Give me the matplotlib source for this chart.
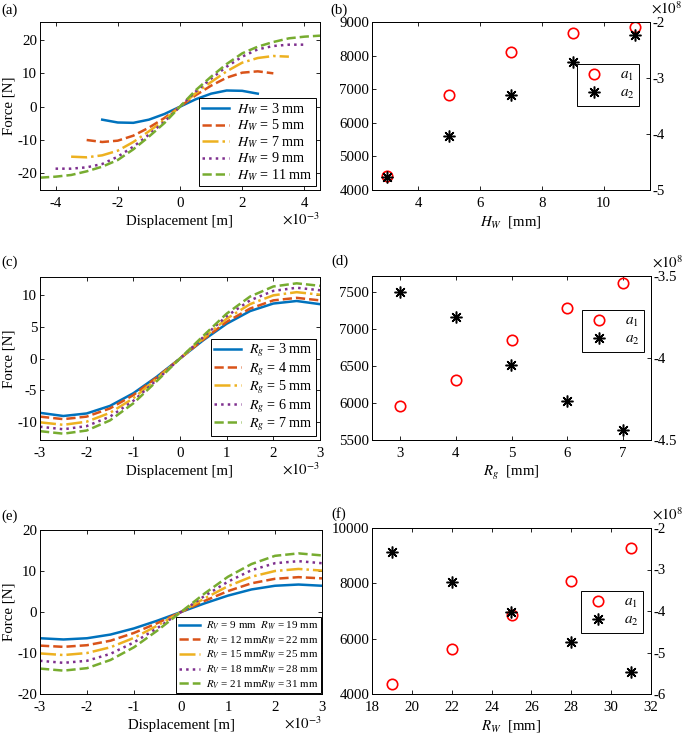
import numpy as np
import matplotlib
matplotlib.use("Agg")
import matplotlib.pyplot as plt

plt.rcParams['font.family'] = 'serif'
plt.rcParams['font.serif'] = ['Liberation Serif', 'DejaVu Serif']
plt.rcParams['mathtext.fontset'] = 'stix'
plt.rcParams['axes.unicode_minus'] = False
plt.rcParams['font.size'] = 10.7
plt.rcParams['xtick.direction'] = 'in'
plt.rcParams['ytick.direction'] = 'in'
plt.rcParams['axes.linewidth'] = 0.7

colors = ['#0072BD', '#D95319', '#EDB120', '#7E2F8E', '#77AC30']
styles = ['-', '--', '-.', ':', '--']

# ---- (a) force vs displacement for different H_W (x in 1e-3 m)
hw_labels = ['$H_W$ = 3 mm', '$H_W$ = 5 mm', '$H_W$ = 7 mm', '$H_W$ = 9 mm', '$H_W$ = 11 mm']
a_x3 = [-2.5, -2, -1.5, -1, -0.5, 0, 0.5, 1, 1.5, 2, 2.5]
a_f3 = [-3.9, -4.75, -4.85, -3.9, -2.2, 0, 2.2, 3.9, 4.85, 4.75, 3.9]
a_x5 = [-3, -2.5, -2, -1.5, -1, -0.5, 0, 0.5, 1, 1.5, 2, 2.5, 3]
a_f5 = [-10.0, -10.6, -10.2, -8.7, -6.3, -3.4, 0, 3.4, 6.3, 8.7, 10.2, 10.6, 10.0]
a_x7 = [-3.5, -3, -2.5, -2, -1.5, -1, -0.5, 0, 0.5, 1, 1.5, 2, 2.5, 3, 3.5]
a_f7 = [-15.0, -15.2, -14.6, -13.2, -10.6, -7.4, -4.0, 0, 4.0, 7.4, 10.6, 13.2, 14.6, 15.2, 15.0]
a_x9 = [-4, -3.5, -3, -2.5, -2, -1.5, -1, -0.5, 0, 0.5, 1, 1.5, 2, 2.5, 3, 3.5, 4]
a_f9 = [-18.6, -18.6, -18.2, -17.2, -15.0, -12.0, -8.4, -4.5, 0,
        4.5, 8.4, 12.0, 15.0, 17.2, 18.2, 18.6, 18.6]
a_x11 = [-4.5, -4, -3.5, -3, -2.5, -2, -1.5, -1, -0.5, 0, 0.5, 1, 1.5, 2, 2.5, 3, 3.5, 4, 4.5]
a_f11 = [-21.3, -21.0, -20.5, -19.4, -18.0, -16.0, -12.8, -9.0, -4.9, 0,
         4.9, 9.0, 12.8, 16.0, 18.0, 19.4, 20.5, 21.0, 21.3]

# ---- (b) fitted coefficients vs H_W
b_hw = [3, 5, 7, 9, 11]
b_a1 = [4416, 6842, 8109, 8683, 8851]
b_a2 = [-4.76, -4.04, -3.30, -2.71, -2.23]   # x 1e8

# ---- (c) force vs displacement for different R_g
rg_labels = ['$R_g$ = 3 mm', '$R_g$ = 4 mm', '$R_g$ = 5 mm', '$R_g$ = 6 mm', '$R_g$ = 7 mm']
c_x = [-3, -2.5, -2, -1.5, -1, -0.5, 0, 0.5, 1, 1.5, 2, 2.5, 3]
c_f3 = [-8.6, -9.1, -8.7, -7.5, -5.5, -2.9, 0, 2.9, 5.5, 7.5, 8.7, 9.1, 8.6]
c_f4 = [-9.2, -9.6, -9.2, -7.9, -5.8, -3.0, 0, 3.0, 5.8, 7.9, 9.2, 9.6, 9.2]
c_f5 = [-10.1, -10.5, -10.0, -8.6, -6.3, -3.2, 0, 3.2, 6.3, 8.6, 10.0, 10.5, 10.1]
c_f6 = [-10.8, -11.2, -10.7, -9.2, -6.7, -3.4, 0, 3.4, 6.7, 9.2, 10.7, 11.2, 10.8]
c_f7 = [-11.5, -11.9, -11.4, -9.8, -7.1, -3.6, 0, 3.6, 7.1, 9.8, 11.4, 11.9, 11.5]

# ---- (d) fitted coefficients vs R_g
d_rg = [3, 4, 5, 6, 7]
d_a1 = [5960, 6304, 6848, 7277, 7620]
d_a2 = [-3.60, -3.75, -4.04, -4.26, -4.44]   # x 1e8

# ---- (e) force vs displacement for different R_V / R_W
rv_labels = ['$R_V$ = 9 mm  $R_W$ = 19 mm', '$R_V$ = 12 mm$R_W$ = 22 mm',
             '$R_V$ = 15 mm$R_W$ = 25 mm', '$R_V$ = 18 mm$R_W$ = 28 mm',
             '$R_V$ = 21 mm$R_W$ = 31 mm']
e_x = [-3, -2.5, -2, -1.5, -1, -0.5, 0, 0.5, 1, 1.5, 2, 2.5, 3]
e_f9 = [-6.4, -6.7, -6.4, -5.5, -4.0, -2.1, 0, 2.1, 4.0, 5.5, 6.4, 6.7, 6.4]
e_f12 = [-8.2, -8.5, -8.1, -7.0, -5.1, -2.7, 0, 2.7, 5.1, 7.0, 8.1, 8.5, 8.2]
e_f15 = [-10.1, -10.5, -10.0, -8.6, -6.3, -3.3, 0, 3.3, 6.3, 8.6, 10.0, 10.5, 10.1]
e_f18 = [-11.9, -12.4, -11.9, -10.2, -7.4, -3.9, 0, 3.9, 7.4, 10.2, 11.9, 12.4, 11.9]
e_f21 = [-13.8, -14.3, -13.7, -11.7, -8.6, -4.5, 0, 4.5, 8.6, 11.7, 13.7, 14.3, 13.8]

# ---- (f) fitted coefficients vs R_W
f_rw = [19, 22, 25, 28, 31]
f_a1 = [4373, 5627, 6843, 8072, 9277]
f_a2 = [-2.58, -3.31, -4.02, -4.75, -5.47]   # x 1e8

W, H = 685, 735
fig = plt.figure(figsize=(W / 100, H / 100), dpi=100)


def make_ax(left, right, top, bottom):
    return fig.add_axes([left / W, 1 - bottom / H, (right - left) / W, (bottom - top) / H])


def force_panel(ax, xs, fs, labels, fontsize=10.2, pad=0.3, spacing=0.05):
    for x, f, c, ls, lab in zip(xs, fs, colors, styles, labels):
        ax.plot(x, f, color=c, ls=ls, lw=1.8, label=lab)
    ax.set_xlabel('Displacement [m]', labelpad=4)
    ax.set_ylabel('Force [N]', labelpad=1)
    ax.tick_params(axis='both', length=3, width=0.6, top=True, right=True)
    ax.tick_params(axis='x', pad=5)
    ax.tick_params(axis='y', pad=2)
    leg = ax.legend(loc='lower right', fontsize=fontsize, frameon=True, fancybox=False,
                    edgecolor='black', framealpha=1, handlelength=1.9,
                    borderaxespad=pad, borderpad=0.2, labelspacing=spacing, handletextpad=0.6)
    leg.get_frame().set_linewidth(0.7)
    ax.annotate(r'$\times10^{-3}$', xy=(1, 0), xycoords='axes fraction',
                xytext=(0, -21), textcoords='offset points',
                ha='right', va='center', fontsize=10.7)


def coef_panel(ax, x, a1, a2, xlabel, ylim1, yticks1, ylim2, yticks2, legpos):
    ax2 = ax.twinx()
    h1, = ax.plot(x, a1, 'o', ms=7.5, mfc='none', mec='red', mew=1.2, label='$a_1$')
    h2, = ax2.plot(x, a2, ls='none', marker=(8, 2, 0), ms=8.5, mec='black', mew=1.1, label='$a_2$')
    ax.set_ylim(*ylim1)
    ax.set_yticks(yticks1)
    ax2.set_ylim(*ylim2)
    ax2.set_yticks(yticks2)
    ax2.set_yticklabels([('%g' % v) for v in yticks2])
    ax.set_xlabel(xlabel, labelpad=3)
    ax.tick_params(length=3, width=0.6, top=True, right=False)
    ax.tick_params(axis='x', pad=5)
    ax.tick_params(axis='y', pad=2)
    ax2.tick_params(length=3, width=0.6, pad=2)
    leg = ax2.legend([h1, h2], ['$a_1$', '$a_2$'], loc='upper right', bbox_to_anchor=legpos,
                     fontsize=11, frameon=True, fancybox=False, edgecolor='black',
                     framealpha=1, handlelength=1.6, borderpad=0.3, labelspacing=0.2,
                     handletextpad=0.9, borderaxespad=0)
    leg.get_frame().set_linewidth(0.7)
    ax2.annotate(r'$\times10^{8}$', xy=(1, 1), xycoords='axes fraction',
                 xytext=(1, 10), textcoords='offset points',
                 ha='left', va='center', fontsize=10.7)


# (a)
ax = make_ax(40, 320, 22, 190)
force_panel(ax, [a_x3, a_x5, a_x7, a_x9, a_x11], [a_f3, a_f5, a_f7, a_f9, a_f11], hw_labels)
ax.set_xlim(-4.5, 4.5)
ax.set_xticks([-4, -2, 0, 2, 4])
ax.set_ylim(-25, 25.4)
ax.set_yticks([-20, -10, 0, 10, 20])

# (b)
ax = make_ax(372, 650, 22, 190)
coef_panel(ax, b_hw, b_a1, b_a2, '$H_W$  [mm]', (4000, 9000), [4000, 5000, 6000, 7000, 8000, 9000],
           (-5, -2), [-5, -4, -3, -2], (0.960, 0.75))
ax.set_xlim(2.5, 11.5)
ax.set_xticks([4, 6, 8, 10])

# (c)
ax = make_ax(40, 320, 277, 440)
force_panel(ax, [c_x] * 5, [c_f3, c_f4, c_f5, c_f6, c_f7], rg_labels)
ax.set_xlim(-3, 3)
ax.set_xticks([-3, -2, -1, 0, 1, 2, 3])
ax.set_ylim(-12.9, 12.9)
ax.set_yticks([-10, -5, 0, 5, 10])

# (d)
ax = make_ax(372, 651, 276, 440)
coef_panel(ax, d_rg, d_a1, d_a2, '$R_g$  [mm]', (5500, 7710), [5500, 6000, 6500, 7000, 7500],
           (-4.5, -3.5), [-4.5, -4, -3.5], (0.975, 0.793))
ax.set_xlim(2.5, 7.5)
ax.set_xticks([3, 4, 5, 6, 7])

# (e)
ax = make_ax(40, 322, 530, 694)
force_panel(ax, [e_x] * 5, [e_f9, e_f12, e_f15, e_f18, e_f21], rv_labels,
            fontsize=7.9, pad=0.1, spacing=0.2)
ax.set_xlim(-3, 3)
ax.set_xticks([-3, -2, -1, 0, 1, 2, 3])
ax.set_ylim(-20, 20)
ax.set_yticks([-20, -10, 0, 10, 20])

# (f)
ax = make_ax(372, 651, 528, 694)
coef_panel(ax, f_rw, f_a1, f_a2, '$R_W$  [mm]', (4000, 10000), [4000, 6000, 8000, 10000],
           (-6, -2), [-6, -5, -4, -3, -2], (0.971, 0.62))
ax.set_xlim(18, 32)
ax.set_xticks([18, 20, 22, 24, 26, 28, 30, 32])

# panel letters
for lab, px, py in [('(a)', 1, 10), ('(b)', 330, 10), ('(c)', 1, 262),
                    ('(d)', 331, 261), ('(e)', 1, 516), ('(f)', 331, 514)]:
    fig.text(px / W, 1 - py / H, lab, ha='left', va='center', fontsize=10.7)

fig.savefig('out.png', dpi=100)
